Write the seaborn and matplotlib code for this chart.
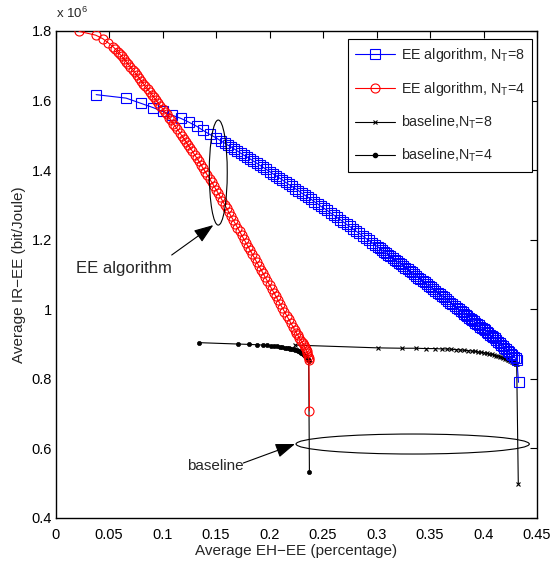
import matplotlib
matplotlib.use("Agg")
import matplotlib.pyplot as plt
from matplotlib.patches import Ellipse
from matplotlib.lines import Line2D
import seaborn as sns

# ---- data (IR-EE in units of 10^6 bit/Joule) ----
ee_nt8_eh = [0.038, 0.066, 0.080, 0.091, 0.100, 0.109, 0.117, 0.1245, 0.132, 0.138,
             0.144, 0.150, 0.155,
             0.158, 0.161, 0.164, 0.167, 0.170, 0.173, 0.176, 0.179, 0.182, 0.185,
             0.188, 0.191, 0.194, 0.197, 0.200, 0.203, 0.206, 0.209, 0.212, 0.215,
             0.218, 0.221, 0.224, 0.227, 0.230, 0.233, 0.236, 0.239, 0.242, 0.245,
             0.248, 0.251, 0.254, 0.257, 0.260, 0.263, 0.266, 0.269, 0.272, 0.275,
             0.278, 0.281, 0.284, 0.287, 0.290, 0.293, 0.296, 0.299,
             0.301, 0.303, 0.305, 0.307, 0.309, 0.311, 0.313, 0.315, 0.317, 0.319,
             0.321, 0.323, 0.325, 0.327, 0.329, 0.331, 0.333, 0.335, 0.337, 0.339,
             0.341, 0.343, 0.345, 0.347, 0.349, 0.351, 0.353, 0.355, 0.357, 0.359,
             0.361, 0.363, 0.365, 0.367, 0.369, 0.371, 0.373, 0.375, 0.377, 0.379,
             0.3805, 0.3820, 0.3835, 0.3850, 0.3865, 0.3880, 0.3895, 0.3910, 0.3925,
             0.3940, 0.3955, 0.3970, 0.3985, 0.4000, 0.4015, 0.4030, 0.4045, 0.4060,
             0.4075, 0.4090, 0.4105, 0.4120, 0.4135, 0.4150, 0.4165, 0.4180, 0.4195,
             0.4210, 0.4225, 0.4240, 0.4255, 0.4270, 0.4285, 0.4300, 0.4312, 0.4327]
ee_nt8_ir = [1.617, 1.607, 1.592, 1.580, 1.569, 1.558, 1.549, 1.538, 1.526, 1.514,
             1.503, 1.493, 1.483,
             1.478, 1.472, 1.467, 1.461, 1.455, 1.449, 1.443, 1.438, 1.432, 1.426,
             1.420, 1.414, 1.408, 1.402, 1.396, 1.390, 1.384, 1.378, 1.372, 1.365,
             1.359, 1.353, 1.347, 1.341, 1.334, 1.328, 1.322, 1.316, 1.309, 1.303,
             1.296, 1.290, 1.284, 1.277, 1.271, 1.264, 1.258, 1.251, 1.244, 1.238,
             1.231, 1.224, 1.218, 1.211, 1.204, 1.198, 1.191, 1.184,
             1.180, 1.175, 1.170, 1.166, 1.161, 1.157, 1.152, 1.148, 1.143, 1.138,
             1.134, 1.129, 1.124, 1.120, 1.115, 1.110, 1.106, 1.101, 1.096, 1.091,
             1.087, 1.082, 1.077, 1.072, 1.068, 1.063, 1.058, 1.053, 1.048, 1.044,
             1.039, 1.034, 1.029, 1.024, 1.019, 1.014, 1.010, 1.005, 1.000, 0.995,
             0.991, 0.987, 0.984, 0.980, 0.976, 0.972, 0.969, 0.965, 0.961,
             0.957, 0.954, 0.950, 0.946, 0.942, 0.939, 0.935, 0.931, 0.927,
             0.923, 0.920, 0.916, 0.911, 0.907, 0.903, 0.898, 0.894, 0.889,
             0.885, 0.881, 0.876, 0.872, 0.868, 0.863, 0.859, 0.855, 0.790]

ee_nt4_eh = [0.0220, 0.0376, 0.0441, 0.0493,
             0.054, 0.056, 0.058, 0.060, 0.062, 0.064, 0.066, 0.068, 0.070, 0.072,
             0.074, 0.076, 0.078, 0.080, 0.082, 0.084, 0.086, 0.088, 0.090, 0.092,
             0.094, 0.096, 0.098, 0.100, 0.102, 0.104, 0.106, 0.108, 0.110, 0.112,
             0.114, 0.116, 0.118, 0.120, 0.122, 0.124, 0.126, 0.128, 0.130, 0.132,
             0.134, 0.136, 0.138, 0.140, 0.142, 0.144, 0.146, 0.148, 0.150, 0.152,
             0.154, 0.156, 0.158, 0.160, 0.162, 0.164, 0.166, 0.168, 0.170, 0.172,
             0.174, 0.176, 0.178, 0.180, 0.182, 0.184, 0.186, 0.188, 0.190, 0.192,
             0.194, 0.196, 0.198, 0.200, 0.202, 0.204, 0.206, 0.208, 0.210, 0.212,
             0.214, 0.216, 0.218, 0.220, 0.222,
             0.2235, 0.2250, 0.2265, 0.2280, 0.2295, 0.2310, 0.2320, 0.2330,
             0.2340, 0.2348, 0.2355, 0.2360, 0.2365, 0.2368, 0.2373]
ee_nt4_ir = [1.799, 1.788, 1.778, 1.766,
             1.754, 1.748, 1.741, 1.734, 1.727, 1.720, 1.712, 1.705, 1.697, 1.689,
             1.681, 1.673, 1.665, 1.657, 1.649, 1.641, 1.633, 1.625, 1.617, 1.609,
             1.601, 1.593, 1.585, 1.577, 1.568, 1.560, 1.551, 1.543, 1.534, 1.526,
             1.517, 1.508, 1.499, 1.490, 1.481, 1.472, 1.463, 1.454, 1.444, 1.435,
             1.425, 1.415, 1.405, 1.395, 1.385, 1.375, 1.365, 1.355, 1.344, 1.334,
             1.323, 1.312, 1.301, 1.290, 1.279, 1.268, 1.257, 1.246, 1.235, 1.224,
             1.213, 1.202, 1.191, 1.180, 1.169, 1.158, 1.147, 1.136, 1.125, 1.114,
             1.103, 1.092, 1.081, 1.070, 1.059, 1.048, 1.037, 1.026, 1.015, 1.004,
             0.993, 0.982, 0.971, 0.960, 0.949,
             0.941, 0.933, 0.925, 0.917, 0.910, 0.902, 0.897, 0.891,
             0.885, 0.880, 0.874, 0.867, 0.860, 0.853, 0.7075]

base_nt8_eh = [0.2238, 0.3017, 0.3235, 0.3369, 0.3463, 0.3547, 0.3609, 0.3656,
               0.3700, 0.3742, 0.3782, 0.3820, 0.3856, 0.3890, 0.3922, 0.3952,
               0.3980, 0.4006, 0.4030, 0.4053, 0.4075, 0.4096, 0.4116, 0.4135,
               0.4153, 0.4170, 0.4186, 0.4201, 0.4215, 0.4228, 0.4240, 0.4251,
               0.4261, 0.4270, 0.4278, 0.4285, 0.4291, 0.4297, 0.4302, 0.4306,
               0.4310, 0.4325]
base_nt8_ir = [0.897, 0.889, 0.888, 0.888, 0.887, 0.887, 0.886, 0.886,
               0.885, 0.884, 0.883, 0.882, 0.881, 0.880, 0.879, 0.877,
               0.876, 0.875, 0.873, 0.872, 0.870, 0.869, 0.867, 0.865,
               0.864, 0.862, 0.860, 0.858, 0.857, 0.855, 0.853, 0.852,
               0.850, 0.849, 0.848, 0.847, 0.846, 0.845, 0.844, 0.843,
               0.842, 0.498]

base_nt4_eh = [0.1344, 0.1709, 0.1811, 0.1880, 0.1937, 0.1980, 0.2015, 0.2045,
               0.2072, 0.2097, 0.2120, 0.2141, 0.2160, 0.2178, 0.2195, 0.2211,
               0.2226, 0.2240, 0.2253, 0.2265, 0.2276, 0.2287, 0.2297, 0.2306,
               0.2315, 0.2323, 0.2331, 0.2338, 0.2345, 0.2351, 0.2357, 0.2362,
               0.2366, 0.2373]
base_nt4_ir = [0.904, 0.900, 0.899, 0.898, 0.897, 0.896, 0.895, 0.894,
               0.893, 0.892, 0.891, 0.890, 0.889, 0.888, 0.887, 0.886,
               0.885, 0.883, 0.882, 0.880, 0.879, 0.877, 0.875, 0.873,
               0.871, 0.869, 0.867, 0.865, 0.863, 0.861, 0.858, 0.855,
               0.852, 0.531]

series_labels = ["EE algorithm, N$_T$=8", "EE algorithm, N$_T$=4",
                 "baseline,N$_T$=8", "baseline,N$_T$=4"]
x_ticks = [0, 0.05, 0.1, 0.15, 0.2, 0.25, 0.3, 0.35, 0.4, 0.45]
y_ticks = [0.4, 0.6, 0.8, 1.0, 1.2, 1.4, 1.6, 1.8]

# ---- style ----
sns.set_style("white")
plt.rcParams["font.family"] = ["Liberation Sans", "DejaVu Sans"]
plt.rcParams["mathtext.default"] = "regular"

fig = plt.figure(figsize=(5.55, 5.74), dpi=100)
ax = fig.add_axes([0.1, 0.0976, 0.8676, 0.8484])

BLUE = "#0000ff"
RED = "#ff0000"

# baselines (drawn underneath)
sns.lineplot(x=base_nt8_eh, y=base_nt8_ir, ax=ax, sort=False, estimator=None,
             color="black", lw=0.8, marker="x", markersize=3,
             markeredgecolor="black", markeredgewidth=0.8, zorder=2)
sns.lineplot(x=base_nt4_eh, y=base_nt4_ir, ax=ax, sort=False, estimator=None,
             color="black", lw=0.8, marker="o", markersize=3,
             markerfacecolor="black", markeredgecolor="black",
             markeredgewidth=0.5, zorder=2)

# EE algorithm curves
sns.lineplot(x=ee_nt8_eh, y=ee_nt8_ir, ax=ax, sort=False, estimator=None,
             color=BLUE, lw=0.8, marker="s", markersize=6.5,
             markerfacecolor="none", markeredgecolor=BLUE,
             markeredgewidth=0.8, zorder=3)
sns.lineplot(x=ee_nt4_eh, y=ee_nt4_ir, ax=ax, sort=False, estimator=None,
             color=RED, lw=0.8, marker="o", markersize=6.5,
             markerfacecolor="none", markeredgecolor=RED,
             markeredgewidth=0.8, zorder=3)

# ---- annotations ----
ax.add_patch(Ellipse((0.1521, 1.393), 0.0168, 0.302, fill=False,
                     edgecolor="black", lw=0.8, zorder=4))
ax.add_patch(Ellipse((0.3338, 0.6126), 0.218, 0.0575, fill=False,
                     edgecolor="black", lw=0.8, zorder=4))

arrow_style = dict(arrowstyle="-|>,head_length=0.6,head_width=0.22",
                   mutation_scale=20, color="black", lw=0.8,
                   shrinkA=0, shrinkB=0)
ax.annotate("", xy=(0.1475, 1.242), xytext=(0.1086, 1.156),
            arrowprops=arrow_style, zorder=5)
ax.text(0.0636, 1.118, "EE algorithm", ha="center", va="center", fontsize=12)
ax.annotate("", xy=(0.2238, 0.6126), xytext=(0.1755, 0.558),
            arrowprops=arrow_style, zorder=5)
ax.text(0.1495, 0.55, "baseline", ha="center", va="center", fontsize=11)

# ---- axes ----
ax.set_xlim(0, 0.45)
ax.set_ylim(0.4, 1.8)
ax.set_xticks(x_ticks)
ax.set_yticks(y_ticks)
ax.set_xticklabels(["%g" % v for v in x_ticks])
ax.set_yticklabels(["%g" % v for v in y_ticks])
ax.tick_params(direction="in", length=5, width=0.8, top=True, right=True,
               labelsize=10.5, colors="black")
ax.tick_params(axis="x", pad=7.5)
ax.tick_params(axis="y", pad=2.5)
for sp in ax.spines.values():
    sp.set_visible(True)
    sp.set_color("black")
    sp.set_linewidth(1.0)

ax.set_xlabel("Average EH\u2212EE (percentage)", fontsize=11, labelpad=1)
ax.set_ylabel("Average IR\u2212EE (bit/Joule)", fontsize=11, labelpad=4)
ax.text(0.0, 1.027, "x 10$^{6}$", transform=ax.transAxes, ha="left",
        va="baseline", fontsize=9.5)

# ---- legend ----
handles = [
    Line2D([], [], color=BLUE, lw=0.8, marker="s", markersize=6.5,
           markerfacecolor="none", markeredgecolor=BLUE, markeredgewidth=0.8),
    Line2D([], [], color=RED, lw=0.8, marker="o", markersize=6.5,
           markerfacecolor="none", markeredgecolor=RED, markeredgewidth=0.8),
    Line2D([], [], color="black", lw=0.8, marker="x", markersize=3,
           markeredgewidth=0.8),
    Line2D([], [], color="black", lw=0.8, marker="o", markersize=3,
           markerfacecolor="black"),
]
leg = ax.legend(handles, series_labels, loc="upper right",
                bbox_to_anchor=(0.9903, 0.983), borderaxespad=0,
                fontsize=10.3, frameon=True, fancybox=False, shadow=False,
                framealpha=1, edgecolor="black", handlelength=2.8,
                handletextpad=0.4, borderpad=0.5, labelspacing=1.1,
                numpoints=1)
leg.get_frame().set_linewidth(0.8)

fig.savefig("out.png", dpi=100)
